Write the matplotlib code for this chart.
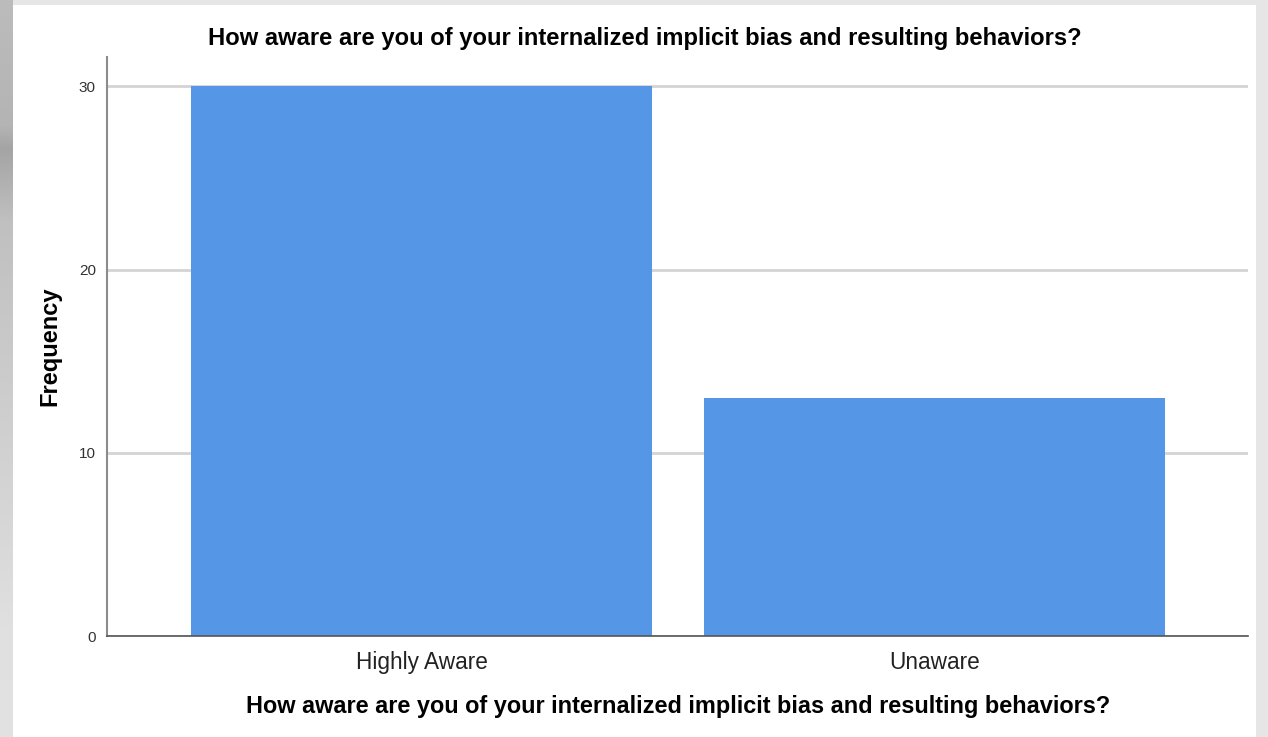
import matplotlib
matplotlib.use("Agg")
import numpy as np
import matplotlib.pyplot as plt
from matplotlib.patches import Rectangle
from matplotlib.colors import LinearSegmentedColormap

plt.rcParams["font.family"] = ["Liberation Sans", "DejaVu Sans"]

# data
categories = ["Highly Aware", "Unaware"]
frequency = [30, 13]
y_ticks = [0, 10, 20, 30]
question = "How aware are you of your internalized implicit bias and resulting behaviors?"

W, H = 1268, 737
fig = plt.figure(figsize=(W / 100, H / 100), dpi=100)
fig.patch.set_facecolor("#e6e6e6")

# grey gradient strip on the left edge (screenshot frame)
bg = fig.add_axes([0, 0, 13 / W, 1], zorder=-10)
frame_cmap = LinearSegmentedColormap.from_list(
    "frame", [(0, "#bcbcbc"), (0.17, "#b4b4b4"), (0.2, "#a4a4a4"),
              (0.3, "#c0c0c0"), (0.7, "#d6d6d6"), (0.85, "#e0e0e0"),
              (1, "#e2e2e2")])
bg.imshow(np.linspace(0, 1, 256).reshape(-1, 1), aspect="auto",
          cmap=frame_cmap, extent=[0, 1, 1, 0])
bg.set_axis_off()

# white panel inside the grey frame
fig.patches.append(Rectangle((13 / W, 0), (1256 - 13) / W, (H - 5) / H,
                             transform=fig.transFigure, facecolor="white",
                             edgecolor="none", zorder=-5))

ax = fig.add_axes([107 / W, (H - 636) / H, (1248 - 107) / W, (636 - 57) / H])
ax.set_facecolor("none")
ax.set_zorder(2)

xs = list(range(len(categories)))
ax.bar(xs, frequency, width=0.9, color="#5596e6", edgecolor="none", zorder=2)

ax.set_xlim(-0.613, 1.611)
ax.set_ylim(0, 31.6)
ax.set_yticks(y_ticks)
ax.set_yticklabels([str(t) for t in y_ticks], fontsize=11, color="#333333")
ax.set_xticks(xs)
ax.set_xticklabels(categories, fontsize=16.3, color="#222222")
ax.tick_params(axis="both", length=0)
ax.tick_params(axis="y", pad=8)
ax.tick_params(axis="x", pad=11)

ax.grid(axis="y", color="#d4d4d4", linewidth=2, zorder=1)
ax.set_axisbelow(True)

for s in ["top", "right"]:
    ax.spines[s].set_visible(False)
ax.spines["left"].set_color("#8c8c8c")
ax.spines["left"].set_linewidth(1.5)
ax.spines["bottom"].set_color("#555555")
ax.spines["bottom"].set_linewidth(1.2)

fig.text(645 / W, 1 - 38 / H, question, ha="center", va="center",
         fontsize=17.1, fontweight="bold")
fig.text(678 / W, 1 - 707 / H, question, ha="center", va="center",
         fontsize=16.9, fontweight="bold")
fig.text(50 / W, 1 - 346 / H, "Frequency", ha="center", va="center",
         rotation=90, fontsize=17, fontweight="bold")

fig.savefig("out.png", dpi=100, facecolor=fig.get_facecolor())
print("Saved out.png")
